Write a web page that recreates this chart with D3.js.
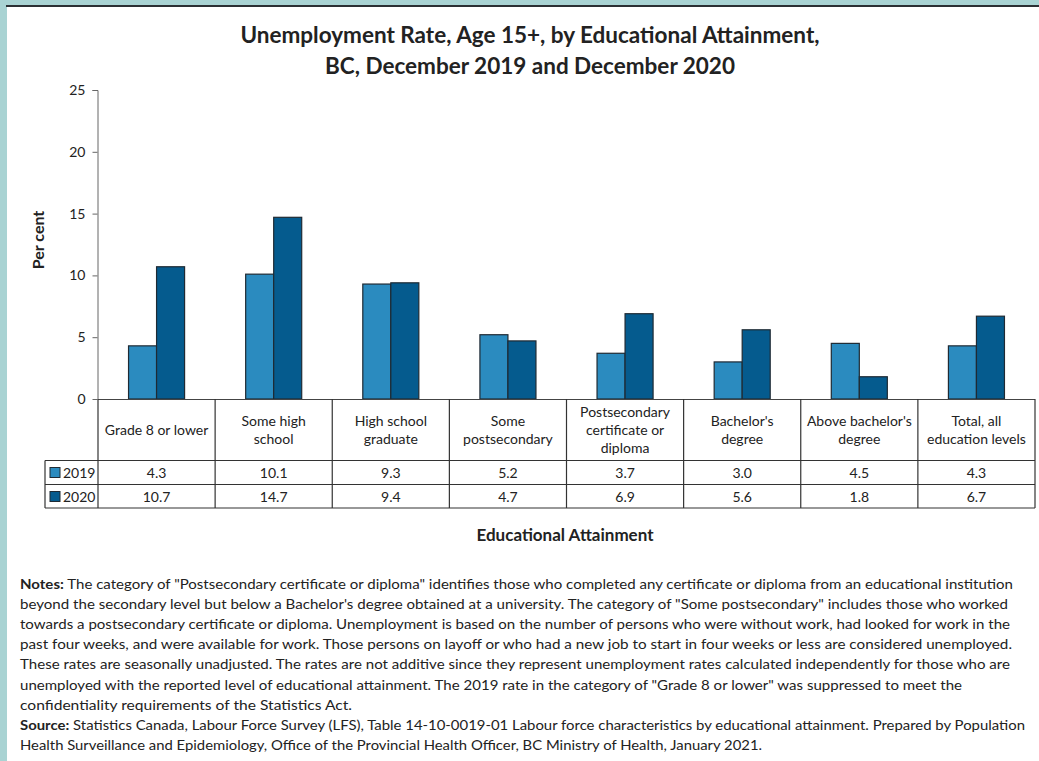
<!DOCTYPE html>
<html><head><meta charset="utf-8">
<script src="https://cdn.jsdelivr.net/npm/d3@7"></script>
<style>
html,body{margin:0;padding:0;background:#a9d3d3;}
svg{display:block;}
text{font-family:Lato,"Open Sans",sans-serif;fill:#222;}
</style></head>
<body><svg id="c" width="1039" height="761"></svg>
<script>
const categories = [
  ["Grade 8 or lower"],
  ["Some high","school"],
  ["High school","graduate"],
  ["Some","postsecondary"],
  ["Postsecondary","certificate or","diploma"],
  ["Bachelor's","degree"],
  ["Above bachelor's","degree"],
  ["Total, all","education levels"]
];
const seriesNames = ["2019","2020"];
const values2019 = [4.3, 10.1, 9.3, 5.2, 3.7, 3.0, 4.5, 4.3];
const values2020 = [10.7, 14.7, 9.4, 4.7, 6.9, 5.6, 1.8, 6.7];
const yTicks = [0, 5, 10, 15, 20, 25];
const colors = ["#2b8bbf", "#055b8e"];
const titleLines = ["Unemployment Rate, Age 15+, by Educational Attainment,", "BC, December 2019 and December 2020"];
const notesLines = [
  [["Notes:",true],[" The category of \"Postsecondary certificate or diploma\" identifies those who completed any certificate or diploma from an educational institution",false]],
  [["beyond the secondary level but below a Bachelor's degree obtained at a university. The category of \"Some postsecondary\" includes those who worked",false]],
  [["towards a postsecondary certificate or diploma. Unemployment is based on the number of persons who were without work, had looked for work in the",false]],
  [["past four weeks, and were available for work. Those persons on layoff or who had a new job to start in four weeks or less are considered unemployed.",false]],
  [["These rates are seasonally unadjusted. The rates are not additive since they represent unemployment rates calculated independently for those who are",false]],
  [["unemployed with the reported level of educational attainment. The 2019 rate in the category of \"Grade 8 or lower\" was suppressed to meet the",false]],
  [["confidentiality requirements of the Statistics Act.",false]],
  [["Source:",true],[" Statistics Canada, Labour Force Survey (LFS), Table 14-10-0019-01 Labour force characteristics by educational attainment. Prepared by Population",false]],
  [["Health Surveillance and Epidemiology, Office of the Provincial Health Officer, BC Ministry of Health, January 2021.",false]]
];
const notesWidths = [993, 988, 990, 992, 990, 942, 332, 1005, 742];

const series = [values2019, values2020];
const svg = d3.select("#c");

// panel
svg.append("rect").attr("x",7).attr("y",6).attr("width",1032).attr("height",755).attr("fill","#fff");
svg.append("rect").attr("x",6).attr("y",5).attr("width",1033).attr("height",2).attr("fill","#2b2f33");

const keys = categories.map((d,i)=>i);
const x = d3.scaleBand().domain(keys).range([98, 1035]).paddingInner(0).paddingOuter(0);
const x1 = d3.scaleBand().domain(seriesNames).range([0, x.bandwidth()]).paddingInner(0).paddingOuter(1.09);
const y = d3.scaleLinear().domain([0, 25]).range([399, 90]);

// title
svg.append("g").selectAll("text").data(titleLines).join("text")
  .attr("x", 530).attr("y",(d,i)=>43+i*31).attr("text-anchor","middle")
  .style("font-size","22.5px").style("font-weight","bold").text(d=>d);

// y axis
const yAxis = d3.axisLeft(y).tickValues(yTicks).tickSize(5).tickPadding(7).tickFormat(d3.format("d"));
const ga = svg.append("g").attr("transform","translate(97.5,0)").call(yAxis);
ga.select(".domain").attr("stroke","#666").attr("d","M-5,90.5H0.5V399");
ga.selectAll(".tick line").attr("stroke","#666");
ga.selectAll(".tick text").style("font-size","14px").attr("fill","#222").style("font-family","Lato,sans-serif");

svg.append("text").attr("transform","translate(44,240) rotate(-90)").attr("text-anchor","middle")
  .style("font-size","16px").style("font-weight","bold").text("Per cent");

// bars
const gb = svg.append("g");
series.forEach((vals, si)=>{
  gb.selectAll(".b"+si).data(vals).join("rect")
    .attr("x",(d,i)=>x(i)+x1(seriesNames[si]))
    .attr("y",d=>y(d))
    .attr("width",x1.bandwidth())
    .attr("height",d=>y(0)-y(d))
    .attr("fill",colors[si]).attr("stroke","#1f2a33").attr("stroke-width",1.2);
});

// table
const tl = svg.append("g").attr("stroke","#333").attr("stroke-width",1.2).attr("fill","none");
tl.append("line").attr("x1",98).attr("x2",1035).attr("y1",399.5).attr("y2",399.5).attr("stroke","#444");
const rowY = [460.5, 484.5, 508];
rowY.forEach(v=>tl.append("line").attr("x1",45).attr("x2",1035).attr("y1",v).attr("y2",v));
keys.concat([8]).forEach(i=>{
  const xv = i<8 ? x(i) : 1035;
  tl.append("line").attr("x1",xv).attr("x2",xv).attr("y1",399).attr("y2",508);
});
tl.append("line").attr("x1",45).attr("x2",45).attr("y1",460.5).attr("y2",508);

// category labels
const gc = svg.append("g");
categories.forEach((lines,i)=>{
  const cx = x(i)+x.bandwidth()/2;
  const n = lines.length;
  lines.forEach((t,j)=>{
    gc.append("text").attr("x",cx).attr("y",430+(j-(n-1)/2)*18+5).attr("text-anchor","middle")
      .style("font-size","14px").text(t);
  });
});

// table values
const rowCenters = [472.5, 496.5];
series.forEach((vals,si)=>{
  svg.append("g").selectAll("text").data(vals).join("text")
    .attr("x",(d,i)=>x(i)+x.bandwidth()/2).attr("y",rowCenters[si]+5).attr("text-anchor","middle")
    .style("font-size","14px").text(d=>d3.format(".1f")(d));
  svg.append("rect").attr("x",50).attr("y",rowCenters[si]-5).attr("width",10).attr("height",10)
    .attr("fill",colors[si]).attr("stroke","#1f2a33").attr("stroke-width",1);
  svg.append("text").attr("x",63).attr("y",rowCenters[si]+5).style("font-size","14px").text(seriesNames[si]);
});

svg.append("text").attr("x",565).attr("y",541).attr("text-anchor","middle")
  .style("font-size","17px").style("font-weight","bold").text("Educational Attainment");

// notes
const gn = svg.append("g");
notesLines.forEach((parts,i)=>{
  const t = gn.append("text").attr("x",20).attr("y",589+i*20.1).style("font-size","14px")
    .attr("textLength",notesWidths[i]).attr("lengthAdjust","spacingAndGlyphs");
  parts.forEach(p=>t.append("tspan").style("font-weight",p[1]?"bold":"normal").text(p[0]));
});
</script></body></html>
